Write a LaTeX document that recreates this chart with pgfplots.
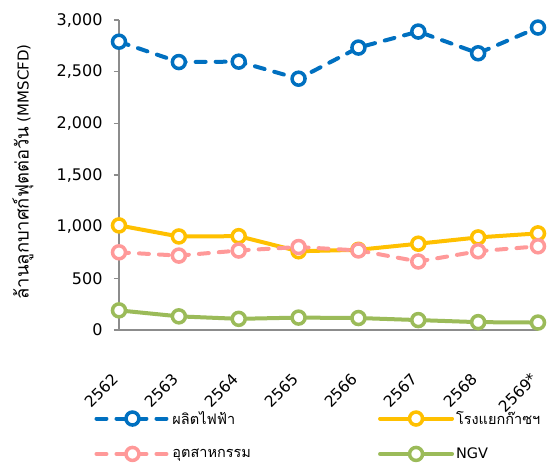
\documentclass[border=0pt]{standalone}
\usepackage{fontspec}
\setmainfont{DejaVu Sans}
\newfontfamily\thaifont[Script=Thai]{Loma}
\usepackage{pgfplots}
\pgfplotsset{compat=1.18}
\definecolor{cblue}{HTML}{0070C0}
\definecolor{cyellow}{HTML}{FFC000}
\definecolor{cpink}{HTML}{FF9999}
\definecolor{cgreen}{HTML}{9BBB59}
\definecolor{caxis}{HTML}{8C8C8C}
\begin{document}
\begin{tikzpicture}
\begin{axis}[
  scale only axis, width=419pt, height=310pt,
  xmin=0, xmax=7, ymin=0, ymax=3000,
  axis x line=bottom, axis y line=left,
  axis line style={-, draw=caxis, line width=1.3pt},
  xtick={0,1,2,3,4,5,6,7},
  xticklabels={2562,2563,2564,2565,2566,2567,2568,2569*},
  ytick={0,500,1000,1500,2000,2500,3000},
  scaled y ticks=false,
  tick align=outside,
  major tick length=5pt,
  ytick style={draw=caxis, line width=1.3pt},
  xtick style={draw=none},
  ticklabel style={font=\fontsize{16}{18}\selectfont},
  /pgf/number format/assume math mode=true,
  yticklabel style={/pgf/number format/fixed, /pgf/number format/1000 sep={,}, xshift=-8pt},
  xticklabel style={font=\fontsize{15.5}{18}\selectfont, xshift=-1pt, yshift=-39pt, rotate=45, anchor=east},
  clip=false,
  ylabel={\fontsize{15}{17}\selectfont{\thaifont\fontsize{18.4}{20}\selectfont ล้านลูกบาศก์ฟุตต่อวัน} (MMSCFD)},
  ylabel style={at={(axis description cs:-0.229,0.51)}, anchor=center},
  legend columns=2,
  legend style={at={(axis description cs:-0.059,-0.255)}, anchor=north west, draw=none, fill=none,
    inner sep=0pt, font=\fontsize{14.5}{17}\selectfont, row sep=18pt,
    /tikz/every even column/.append style={column sep=125pt}},
  legend cell align=left,
  legend image code/.code={\draw[mark repeat=2,mark phase=2,#1] plot coordinates {(0pt,0pt) (36pt,0pt) (72pt,0pt)};},
  every axis plot/.append style={line width=4pt, mark=*, mark size=6.5pt},
]
\addplot[cblue, dash pattern=on 10pt off 10pt, line cap=round, mark options={solid, fill=white, draw=cblue, line width=3.5pt}]
  coordinates {(0,2790) (1,2593) (2,2597) (3,2432) (4,2733) (5,2888) (6,2678) (7,2927)};
\addlegendentry{\thaifont ผลิตไฟฟ้า}
\addplot[cyellow, line cap=round, mark options={solid, fill=white, draw=cyellow, line width=3.5pt}]
  coordinates {(0,1012) (1,905) (2,908) (3,762) (4,776) (5,835) (6,896) (7,935)};
\addlegendentry{\thaifont โรงแยกก๊าซฯ}
\addplot[cpink, dash pattern=on 10pt off 10pt, line cap=round, mark options={solid, fill=white, draw=cpink, line width=3.5pt}]
  coordinates {(0,752) (1,720) (2,769) (3,803) (4,770) (5,663) (6,762) (7,810)};
\addlegendentry{\thaifont อุตสาหกรรม}
\addplot[cgreen, line cap=round, mark options={solid, fill=white, draw=cgreen, line width=3.5pt}]
  coordinates {(0,190) (1,132) (2,108) (3,120) (4,116) (5,96) (6,76) (7,72)};
\addlegendentry{NGV}
\coordinate (O) at (rel axis cs:0,0);
\end{axis}
\pgfresetboundingbox
\path[use as bounding box] (O) ++(-119pt,-133pt) rectangle ++(549pt,463pt);
\end{tikzpicture}
\end{document}
